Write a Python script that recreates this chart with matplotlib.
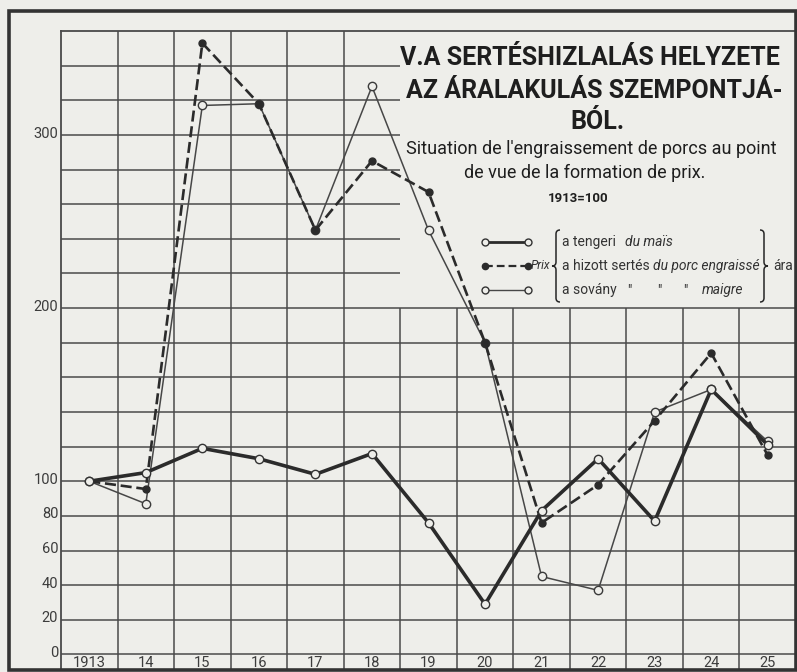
import matplotlib
matplotlib.use("Agg")
import matplotlib.pyplot as plt
from matplotlib.patches import Rectangle, PathPatch
from matplotlib.path import Path
from matplotlib.lines import Line2D

# index numbers, 1913 = 100
years = ['1913', '14', '15', '16', '17', '18', '19', '20', '21', '22', '23', '24', '25']
maize = [100, 105, 119, 113, 104, 116, 76, 29, 83, 113, 77, 153, 121]
fat_pig = [100, 95.5, 353, 318, 245, 285, 267, 180, 76, 98, 135, 174, 115]
lean_pig = [100, 87, 317, 318, 245, 328, 245, 180, 45, 37, 140, 153, 123]
ytick_vals = [0, 20, 40, 60, 80, 100, 200, 300]

W, H = 797, 672
BG = '#eeeeea'
INK = '#2b2b2b'
GRID = '#4a4a4a'
fam = ['Roboto', 'DejaVu Sans']


def px(x, y):
    """figure fraction from pixel position measured from top-left"""
    return x / W, 1 - y / H


fig = plt.figure(figsize=(W / 100, H / 100), dpi=100, facecolor=BG)
ax = fig.add_axes([61 / W, 2 / H, 735 / W, 639 / H], facecolor=BG)
ax.set_xlim(-0.5, 12.5)
ax.set_ylim(-9, 360)
ax.set_xticks([])
ax.set_yticks([])
for s in ax.spines.values():
    s.set_color(GRID)
    s.set_linewidth(1.3)

# grid, cut out where the title block sits (x > 5.5, y > 200)
for v in range(0, 360, 20):
    ax.hlines(v, -0.5, 12.5 if v <= 200 else 5.5, color=GRID, lw=1.1, zorder=1)
for k in range(1, 13):
    xv = k - 0.5
    ax.vlines(xv, -9, 360 if xv < 5.5 else 200, color=GRID, lw=1.1, zorder=1)

x = list(range(len(years)))
ax.plot(x, lean_pig, color='#474747', lw=1.1, marker='o', ms=6, mfc=BG, mec='#3a3a3a',
        mew=1.0, zorder=3)
ax.plot(x, fat_pig, color=INK, lw=1.9, dashes=(4.2, 1.8), marker='o', ms=5, mfc=INK,
        mec=INK, zorder=4)
ax.plot(x, maize, color=INK, lw=2.6, marker='o', ms=6, mfc=BG, mec='#333333', mew=1.0,
        zorder=5)

for v in ytick_vals:
    ax.annotate(str(v), xy=(-0.5, v), xytext=(-2, 1), textcoords='offset points',
                ha='right', va='center', fontsize=10.5, color='#3c3c3c', family=fam)
for i, lab in enumerate(years):
    ax.text(i, -4.8, lab, ha='center', va='center', fontsize=10.5, color='#3c3c3c',
            family=fam)

# outer frame of the plate
fig.patches.append(Rectangle(px(9, 670), (796 - 9) / W, (670 - 11) / H,
                             transform=fig.transFigure, fill=False, ec='#333333', lw=2.6))

# title block
tkw = dict(ha='center', va='center', color='#1e1e1e', family=fam)
fig.text(*px(590, 58), 'V.A SERTÉSHIZLALÁS HELYZETE', fontsize=18, fontweight='bold', **tkw)
fig.text(*px(594, 91), 'AZ ÁRALAKULÁS SZEMPONTJÁ-', fontsize=18, fontweight='bold', **tkw)
fig.text(*px(597, 122), 'BÓL.', fontsize=18, fontweight='bold', **tkw)
fig.text(*px(591, 149), "Situation de l'engraissement de porcs au point", fontsize=13,
         **tkw)
fig.text(*px(585, 173), 'de vue de la formation de prix.', fontsize=13, **tkw)
fig.text(*px(578, 199), '1913=100', fontsize=9.5, fontweight='bold', **tkw)

# legend
rows = [242, 266, 290]
fig.lines.append(Line2D([485 / W, 528 / W], [px(0, rows[0])[1]] * 2, transform=fig.transFigure,
                        color=INK, lw=2.0, marker='o', ms=5, mfc=BG, mec='#333333'))
fig.lines.append(Line2D([485 / W, 528 / W], [px(0, rows[1])[1]] * 2, transform=fig.transFigure,
                        color=INK, lw=1.6, dashes=(3.5, 1.8), marker='o', ms=4.5, mfc=INK,
                        mec=INK))
fig.lines.append(Line2D([485 / W, 528 / W], [px(0, rows[2])[1]] * 2, transform=fig.transFigure,
                        color='#474747', lw=1.0, marker='o', ms=5, mfc=BG, mec='#333333'))

lkw = dict(va='center', ha='left', color='#333333', family=fam)
fig.text(*px(531, rows[1]), 'Prix', style='italic', fontsize=8.5, **lkw)
fig.text(*px(562, rows[0]), 'a tengeri', fontsize=10, **lkw)
fig.text(*px(625, rows[0]), 'du maïs', style='italic', fontsize=10, **lkw)
fig.text(*px(562, rows[1]), 'a hizott sertés', fontsize=10, **lkw)
fig.text(*px(653, rows[1]), 'du porc engraissé', style='italic', fontsize=10, **lkw)
fig.text(*px(562, rows[2]), 'a sovány', fontsize=10, **lkw)
for dx in (627, 657, 683):
    fig.text(*px(dx, rows[2] + 1), '"', fontsize=10, **lkw)
fig.text(*px(702, rows[2]), 'maigre', style='italic', fontsize=10, **lkw)
fig.text(*px(773, rows[1]), 'ára', fontsize=10, **lkw)


def brace(x0, top, bot, tip, d):
    """curly brace; d=+1 opens to the right ({), d=-1 for }"""
    mid = (top + bot) / 2
    xs = x0 + d * 3
    verts = [(xs + d * 4, top), (xs, top), (xs, top + 4), (xs, mid - 4), (xs, mid),
             (tip, mid), (xs, mid), (xs, mid + 4), (xs, bot - 4), (xs, bot),
             (xs + d * 4, bot)]
    codes = [Path.MOVETO, Path.CURVE3, Path.CURVE3, Path.LINETO, Path.CURVE3, Path.CURVE3,
             Path.CURVE3, Path.CURVE3, Path.LINETO, Path.CURVE3, Path.CURVE3]
    verts = [px(a, b) for a, b in verts]
    fig.patches.append(PathPatch(Path(verts, codes), transform=fig.transFigure, fill=False,
                                 ec='#262626', lw=1.1))


brace(553, 230, 302, 552, 1)
brace(767, 230, 302, 768, -1)

fig.savefig('out.png', dpi=100, facecolor=BG)
